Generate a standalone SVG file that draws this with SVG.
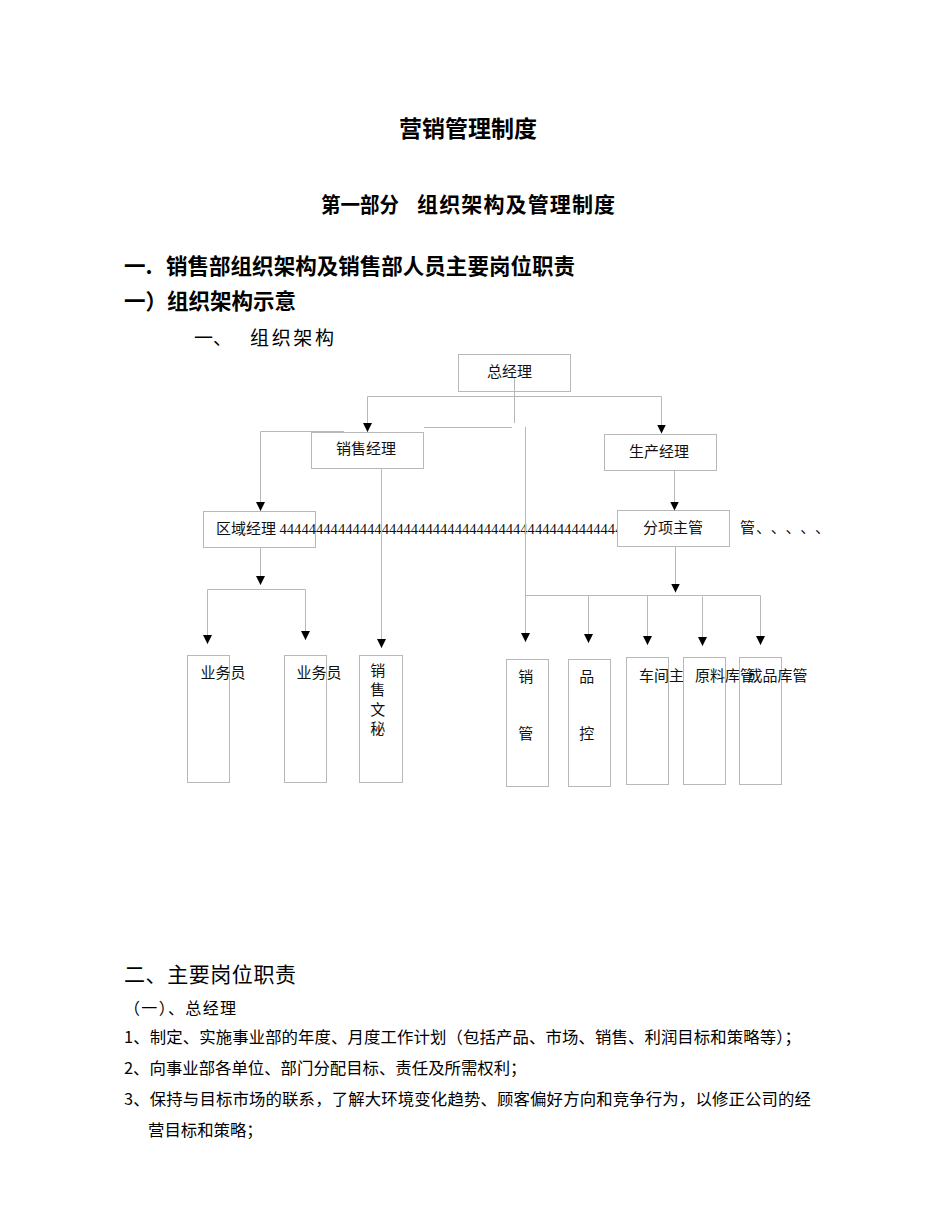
<svg xmlns="http://www.w3.org/2000/svg" width="950" height="1230" viewBox="0 0 950 1230">
<style>
.t{font-family:"Noto Sans CJK SC","Noto Sans",sans-serif;fill:#000}
.h{font-weight:bold}
.n{font-family:"Noto Sans CJK SC","Noto Sans",sans-serif;font-size:15px;fill:#111}
.box{fill:#fff;stroke:#b8b8b8;stroke-width:1}
.vbox{fill:none;stroke:#b8b8b8;stroke-width:1}
.c{fill:none;stroke:#b8b8b8;stroke-width:1}
</style>
<defs>
<marker id="arr" viewBox="0 0 10 10" refX="10" refY="5" markerWidth="9" markerHeight="9" markerUnits="userSpaceOnUse" orient="auto">
<path d="M0,0 L10,5 L0,10 z" fill="#000"/>
</marker>
</defs>
<rect width="950" height="1230" fill="#fff"/>

<g id="headings">
<text class="t h" x="468" y="137" text-anchor="middle" font-size="23">营销管理制度</text>
<text class="t h" x="321" y="212" font-size="21" textLength="78" lengthAdjust="spacingAndGlyphs">第一部分</text>
<text class="t h" x="417" y="212" font-size="21" textLength="198">组织架构及管理制度</text>
<text class="t h" x="124" y="274" font-size="21.5">一.</text>
<text class="t h" x="166" y="274" font-size="21.5" textLength="409">销售部组织架构及销售部人员主要岗位职责</text>
<text class="t h" x="124" y="309" font-size="21.5">一）组织架构示意</text>
<text class="t" x="194" y="345" font-size="19">一、</text>
<text class="t" x="250" y="345" font-size="19" textLength="84">组织架构</text>
</g>

<g id="n-zjl">
<rect class="box" x="458.5" y="354.5" width="112" height="37"/>
<text class="n" x="487" y="377">总经理</text>
</g>
<g id="n-xsjl">
<rect class="box" x="311.5" y="432.5" width="112" height="36"/>
<text class="n" x="336" y="454">销售经理</text>
</g>
<g id="n-scjl">
<rect class="box" x="604.5" y="434.5" width="112" height="36"/>
<text class="n" x="629" y="456.5">生产经理</text>
</g>
<g id="n-qyjl">
<rect class="box" x="203.5" y="511.5" width="112" height="36"/>
<text class="n" x="216" y="533.5">区域经理</text>
<text x="279.5" y="533.5" font-family="Liberation Serif, serif" font-size="14.6" fill="#111">44444444444444444444444444444444444444444444444444</text>
<text class="n" x="740" y="533"><tspan>管</tspan><tspan x="756" textLength="74" lengthAdjust="spacing">、、、、、</tspan></text>
</g>
<g id="n-fxzg">
<rect class="box" x="617.5" y="510.5" width="112" height="36"/>
<text class="n" x="643" y="532.5">分项主管</text>
</g>

<g id="n-ywy1">
<rect class="vbox" x="187.5" y="655.5" width="42" height="127"/>
<text class="n" x="200.5" y="677.5">业务员</text>
</g>
<g id="n-ywy2">
<rect class="vbox" x="284.5" y="655.5" width="42" height="127"/>
<text class="n" x="296.5" y="677.5">业务员</text>
</g>
<g id="n-xsws">
<rect class="vbox" x="359.5" y="655.5" width="43" height="127"/>
<text class="n" writing-mode="vertical-rl" font-size="14" letter-spacing="4.3" x="377.7" y="663">销售文秘</text>
</g>
<g id="n-xg">
<rect class="vbox" x="506.5" y="659.5" width="42" height="127"/>
<text class="n" text-anchor="middle"><tspan x="525.7" y="682.4">销</tspan><tspan x="525.7" y="738.7">管</tspan></text>
</g>
<g id="n-pk">
<rect class="vbox" x="568.5" y="659.5" width="42" height="127"/>
<text class="n" text-anchor="middle"><tspan x="586.7" y="682.4">品</tspan><tspan x="586.7" y="738.7">控</tspan></text>
</g>
<g id="n-cjz">
<rect class="vbox" x="626.5" y="657.5" width="42" height="127"/>
<text class="n" x="639" y="680.7">车间主</text>
</g>
<g id="n-ylkg">
<rect class="vbox" x="683.5" y="657.5" width="42" height="127"/>
<text class="n" x="695" y="680.7">原料库管</text>
</g>
<g id="n-cpkg">
<rect class="vbox" x="739.5" y="657.5" width="42" height="127"/>
<text class="n" x="747.5" y="680.7">成品库管</text>
</g>

<g id="connectors">
<path class="c" d="M367.5 396.5 H661.5"/>
<path class="c" d="M367.5 396.5 V432" marker-end="url(#arr)"/>
<path class="c" d="M661.5 396.5 V433.5" marker-end="url(#arr)"/>
<path class="c" d="M514.5 378 V423"/>
<path class="c" d="M424 427.5 H512"/>
<path class="c" d="M525.5 427 V642" marker-end="url(#arr)"/>
<path class="c" d="M260.5 431.5 H344"/>
<path class="c" d="M260.5 431.5 V511" marker-end="url(#arr)"/>
<path class="c" d="M381.5 468.5 V648" marker-end="url(#arr)"/>
<path class="c" d="M260.5 547.5 V585" marker-end="url(#arr)"/>
<path class="c" d="M207.5 589.5 H305.5"/>
<path class="c" d="M207.5 589.5 V644" marker-end="url(#arr)"/>
<path class="c" d="M305.5 589.5 V640" marker-end="url(#arr)"/>
<path class="c" d="M674.5 470.5 V510.5" marker-end="url(#arr)"/>
<path class="c" d="M675.5 546.5 V592.5" marker-end="url(#arr)"/>
<path class="c" d="M525.5 595.5 H760.5"/>
<path class="c" d="M588.5 595.5 V643" marker-end="url(#arr)"/>
<path class="c" d="M647.5 595.5 V645" marker-end="url(#arr)"/>
<path class="c" d="M702.5 596.5 V646" marker-end="url(#arr)"/>
<path class="c" d="M760.5 595.5 V645" marker-end="url(#arr)"/>
</g>

<g id="body">
<text class="t" x="124" y="981.5" font-size="21" textLength="172">二、主要岗位职责</text>
<text class="t" x="124" y="1014" font-size="16" textLength="112" lengthAdjust="spacing">（一）、总经理</text>
<text class="t" x="124" y="1043" font-size="16.4" textLength="677">1、制定、实施事业部的年度、月度工作计划（包括产品、市场、销售、利润目标和策略等）；</text>
<text class="t" x="124" y="1074" font-size="16.4">2、向事业部各单位、部门分配目标、责任及所需权利；</text>
<text class="t" x="124" y="1105" font-size="16.4" textLength="687">3、保持与目标市场的联系，了解大环境变化趋势、顾客偏好方向和竞争行为，以修正公司的经</text>
<text class="t" x="148" y="1136" font-size="16.4">营目标和策略；</text>
</g>
</svg>
